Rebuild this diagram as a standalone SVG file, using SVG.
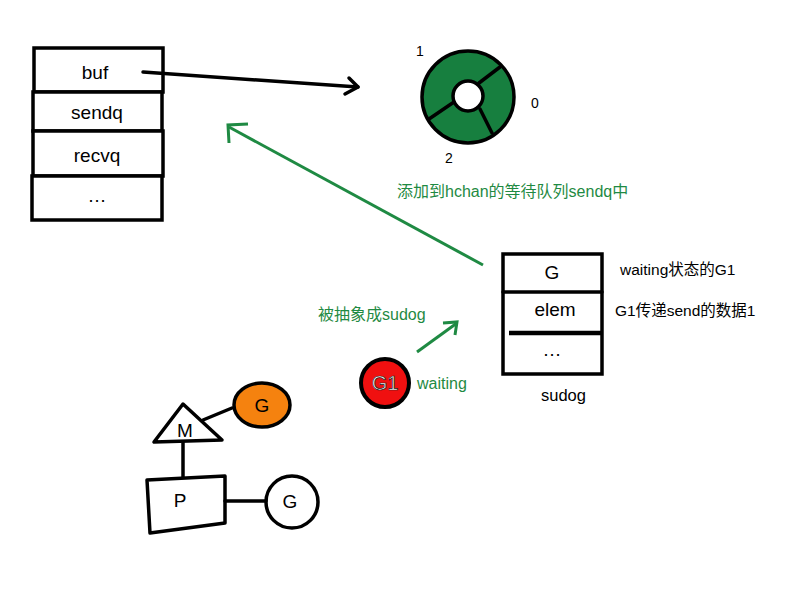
<svg xmlns="http://www.w3.org/2000/svg" width="800" height="600" viewBox="0 0 800 600">
<style>
.box{fill:#fff;stroke:#000;stroke-width:3.5}
.ln{fill:none;stroke:#000;stroke-width:3.5;stroke-linecap:round;stroke-linejoin:round}
.t{font-family:"Liberation Sans","Noto Sans CJK SC",Arial,sans-serif;font-size:19px;fill:#000;text-anchor:middle;dominant-baseline:central}
.s{font-family:"Liberation Sans","Noto Sans CJK SC",Arial,sans-serif;font-size:15.5px;fill:#000}
.n{font-family:"Liberation Sans",Arial,sans-serif;font-size:14px;fill:#000}
.g{font-family:"Liberation Sans","Noto Sans CJK SC",Arial,sans-serif;font-size:16px;fill:#1f8a43}
.ga{fill:none;stroke:#1f8a43;stroke-width:3;stroke-linecap:butt}
</style>
<rect width="800" height="600" fill="#fff"/>
<g id="hchan">
<rect class="box" x="34" y="48" width="129" height="44"/>
<rect class="box" x="33" y="92" width="129" height="39"/>
<rect class="box" x="33" y="131" width="130" height="45"/>
<rect class="box" x="32" y="176" width="130" height="44"/>
<text class="t" x="95" y="72">buf</text>
<text class="t" x="97" y="112">sendq</text>
<text class="t" x="97" y="155">recvq</text>
<text class="t" x="97" y="195">…</text>
</g>
<g id="ring">
<circle cx="468" cy="97" r="46" fill="#177f3f" stroke="#000" stroke-width="3.5"/>
<circle cx="468" cy="96" r="15" fill="#fff" stroke="#000" stroke-width="3.5"/>
<line class="ln" x1="479" y1="83" x2="500" y2="67"/>
<line class="ln" x1="454" y1="102" x2="429" y2="119"/>
<line class="ln" x1="480" y1="109" x2="492" y2="133"/>
<text class="n" x="416" y="56">1</text>
<text class="n" x="531" y="108">0</text>
<text class="n" x="445" y="163">2</text>
</g>
<g id="sudog">
<rect class="box" x="503" y="254" width="99" height="120"/>
<line class="ln" x1="503" y1="292" x2="602" y2="292"/>
<line x1="509" y1="333" x2="602" y2="333" stroke="#000" stroke-width="4.5"/>
<text class="t" x="552" y="272">G</text>
<text class="t" x="555" y="309">elem</text>
<text class="t" x="552" y="349">…</text>
<text class="s" x="541" y="401" style="font-size:16.5px">sudog</text>
<text class="s" x="620" y="275">waiting状态的G1</text>
<text class="s" x="615" y="316">G1传递send的数据1</text>
</g>
<g id="g1">
<circle cx="385" cy="383" r="24" fill="#f01010" stroke="#000" stroke-width="4"/>
<text class="t" x="385" y="383" style="fill:#fff;stroke:#222;stroke-width:0.7;font-size:20px">G1</text>
<text class="g" x="417" y="389">waiting</text>
</g>
<g id="gmp">
<polygon class="ln" points="183,404 154,442 222,440" fill="#fff"/>
<text class="t" x="185" y="430">M</text>
<ellipse cx="262" cy="405" rx="28" ry="22" fill="#f5820f" stroke="#000" stroke-width="3.5"/>
<text class="t" x="262" y="405">G</text>
<polygon class="ln" points="147,480 225,476 225,523 150,533" fill="#fff"/>
<text class="t" x="180" y="500">P</text>
<circle cx="292" cy="502" r="26" fill="#fff" stroke="#000" stroke-width="3.5"/>
<text class="t" x="290" y="501">G</text>
</g>
<g id="connectors">
<line class="ln" x1="143" y1="72" x2="358" y2="87"/>
<polyline class="ln" points="349,78 358,87 345,94"/>
<line class="ln" x1="203" y1="420" x2="232" y2="408"/>
<line class="ln" x1="183" y1="442" x2="183" y2="477"/>
<line class="ln" x1="225" y1="501" x2="266" y2="501"/>
<line class="ga" x1="483" y1="265" x2="229" y2="127"/>
<polyline class="ga" points="248,124 228,125 229,143"/>
<line class="ga" x1="417" y1="352" x2="457" y2="323"/>
<polyline class="ga" points="443,323 457,322 455,335"/>
<text class="g" x="397" y="197">添加到hchan的等待队列sendq中</text>
<text class="g" x="318" y="320">被抽象成sudog</text>
</g>
</svg>
